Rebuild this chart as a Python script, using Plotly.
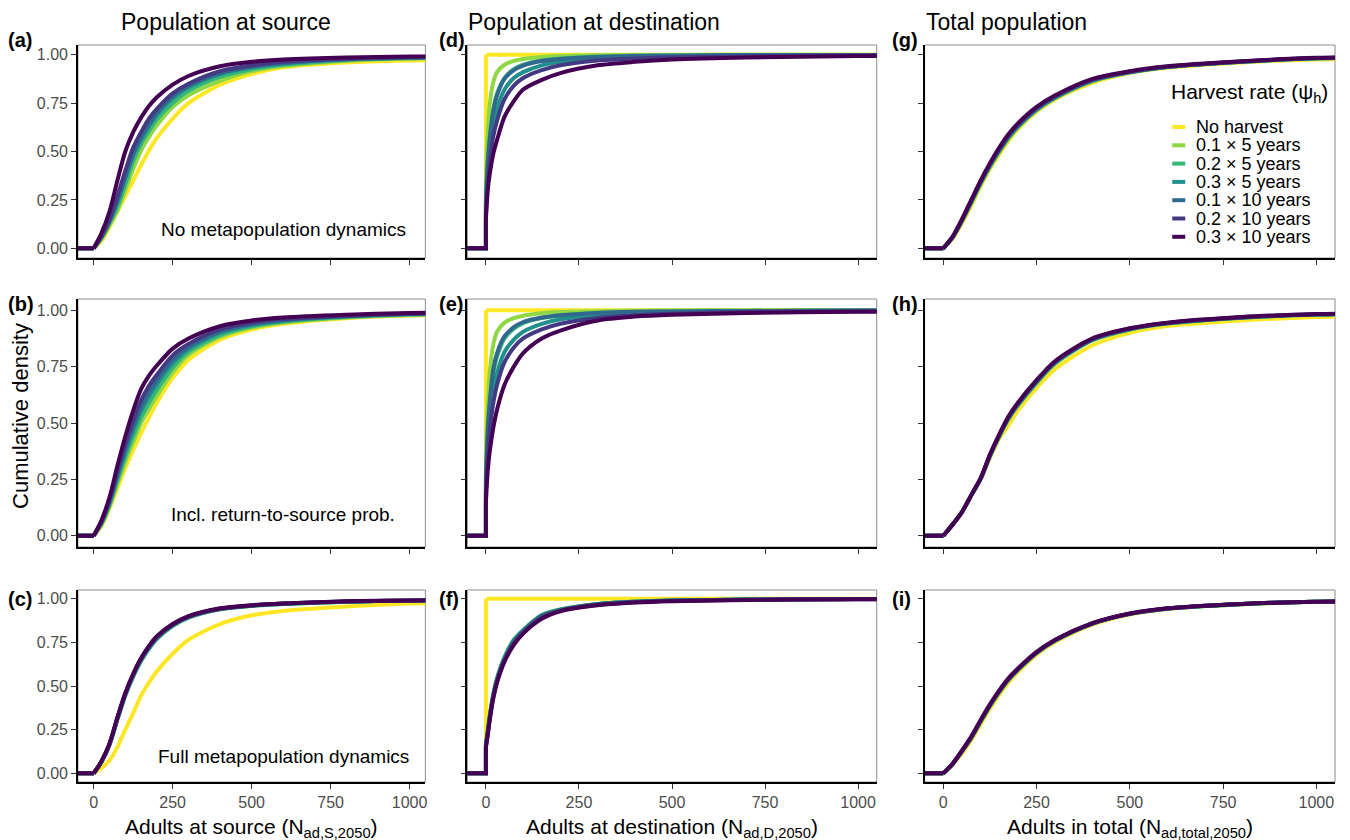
import plotly.graph_objects as go
from plotly.subplots import make_subplots

# ---------------- data ----------------
SERIES = ["No harvest", "0.1 × 5 years", "0.2 × 5 years", "0.3 × 5 years",
          "0.1 × 10 years", "0.2 × 10 years", "0.3 × 10 years"]
COLORS = ["#FDE725", "#8FD744", "#35B779", "#21908C", "#31688E", "#443A83", "#440154"]

# x grid for smooth ECDFs (source & total)
X_SMOOTH = [0, 25, 50, 75, 100, 125, 150, 175, 200, 250, 300, 400, 500, 600, 800, 1000, 1100]
# x grid for destination ECDFs (point mass at zero -> vertical jump)
X_DEST = [0, 0, 5, 10, 20, 30, 50, 75, 100, 150, 200, 300, 400, 500, 700, 1000, 1100]

# series order in every panel: SERIES order
panel_a = [
    [0, .04, .11, .19, .27, .35, .43, .505, .57, .67, .75, .845, .90, .935, .96, .97, .972],
    [0, .05, .12, .195, .30, .41, .505, .575, .635, .73, .79, .865, .915, .942, .968, .98, .982],
    [0, .055, .13, .215, .33, .45, .54, .605, .665, .75, .812, .885, .925, .948, .973, .982, .984],
    [0, .058, .14, .24, .36, .48, .56, .63, .69, .775, .832, .90, .935, .955, .976, .984, .986],
    [0, .06, .14, .245, .37, .49, .575, .64, .70, .785, .84, .905, .937, .957, .977, .985, .987],
    [0, .065, .15, .27, .40, .52, .60, .67, .72, .80, .85, .915, .945, .963, .979, .987, .988],
    [0, .08, .19, .35, .50, .60, .675, .735, .78, .845, .89, .94, .963, .975, .986, .99, .991],
]
panel_b = [
    [0, .045, .12, .21, .30, .38, .455, .525, .59, .70, .78, .87, .915, .94, .965, .977, .978],
    [0, .05, .13, .23, .328, .415, .50, .562, .62, .725, .802, .882, .923, .946, .968, .979, .98],
    [0, .054, .137, .245, .35, .441, .525, .59, .647, .745, .815, .89, .929, .949, .97, .981, .982],
    [0, .058, .145, .26, .37, .468, .553, .618, .673, .765, .828, .90, .935, .954, .973, .983, .984],
    [0, .06, .15, .27, .385, .485, .57, .637, .689, .78, .837, .906, .939, .957, .974, .984, .985],
    [0, .064, .158, .285, .405, .51, .60, .665, .714, .80, .85, .915, .945, .961, .976, .985, .986],
    [0, .07, .17, .31, .44, .555, .65, .71, .755, .83, .875, .93, .955, .968, .98, .988, .989],
]
panel_c = [
    [0, .03, .075, .15, .25, .345, .445, .52, .585, .685, .765, .855, .905, .93, .955, .972, .975],
    [0, .066, .163, .309, .446, .556, .646, .716, .772, .845, .892, .94, .959, .97, .983, .989, .99],
    [0, .066, .162, .307, .444, .553, .643, .713, .769, .843, .891, .939, .959, .97, .983, .989, .99],
    [0, .067, .164, .311, .449, .559, .649, .719, .775, .847, .894, .941, .96, .971, .983, .989, .99],
    [0, .068, .166, .314, .452, .562, .652, .722, .778, .849, .896, .942, .961, .972, .984, .989, .991],
    [0, .069, .168, .317, .456, .566, .656, .726, .781, .852, .898, .943, .962, .972, .984, .99, .991],
    [0, .07, .17, .32, .46, .57, .66, .73, .785, .855, .90, .945, .963, .973, .985, .99, .992],
]
panel_d = [
    [0, 1, 1, 1, 1, 1, 1, 1, 1, 1, 1, 1, 1, 1, 1, 1, 1],
    [0, .35, .6, .74, .86, .91, .948, .968, .978, .988, .993, .997, .998, .999, 1, 1, 1],
    [0, .25, .45, .57, .72, .80, .88, .925, .948, .97, .98, .99, .994, .996, .998, .999, .999],
    [0, .2, .38, .49, .63, .72, .82, .88, .91, .945, .963, .98, .988, .992, .996, .998, .998],
    [0, .24, .44, .56, .71, .79, .875, .92, .944, .967, .978, .988, .993, .995, .998, .999, .999],
    [0, .18, .35, .45, .58, .66, .77, .84, .88, .92, .945, .97, .98, .986, .992, .996, .997],
    [0, .15, .30, .38, .49, .56, .68, .76, .82, .87, .905, .945, .963, .975, .986, .993, .994],
]
panel_e = [
    [0, 1, 1, 1, 1, 1, 1, 1, 1, 1, 1, 1, 1, 1, 1, 1, 1],
    [0, .35, .58, .72, .85, .905, .945, .965, .976, .987, .992, .996, .998, .999, 1, 1, 1],
    [0, .25, .45, .57, .72, .795, .875, .918, .943, .965, .976, .987, .992, .995, .997, .999, .999],
    [0, .21, .39, .5, .64, .72, .815, .87, .905, .94, .96, .978, .986, .99, .995, .998, .998],
    [0, .26, .47, .59, .74, .81, .885, .925, .948, .968, .978, .988, .993, .995, .997, .999, .999],
    [0, .19, .36, .46, .59, .67, .77, .835, .875, .915, .94, .966, .978, .985, .992, .996, .997],
    [0, .15, .29, .37, .48, .56, .67, .75, .81, .875, .91, .955, .972, .98, .988, .993, .994],
]
panel_f = [
    [0, 1, 1, 1, 1, 1, 1, 1, 1, 1, 1, 1, 1, 1, 1, 1, 1],
    [0, .165, .245, .325, .455, .545, .665, .765, .82, .906, .938, .97, .983, .99, .995, .998, .998],
    [0, .165, .245, .325, .455, .545, .665, .765, .82, .906, .938, .97, .983, .99, .995, .998, .998],
    [0, .16, .24, .32, .45, .54, .66, .76, .817, .904, .936, .969, .982, .99, .995, .998, .998],
    [0, .16, .235, .315, .445, .535, .655, .755, .814, .902, .935, .968, .982, .989, .995, .998, .998],
    [0, .155, .23, .31, .44, .53, .65, .745, .807, .893, .932, .965, .98, .988, .994, .997, .998],
    [0, .15, .22, .30, .43, .52, .64, .735, .80, .885, .928, .962, .978, .986, .993, .997, .998],
]
panel_g = [
    [0, .05, .13, .22, .32, .41, .485, .555, .615, .705, .77, .855, .905, .932, .96, .975, .977],
    [0, .055, .139, .233, .331, .42, .497, .567, .624, .712, .776, .864, .909, .936, .963, .981, .983],
    [0, .056, .141, .237, .335, .424, .502, .571, .627, .715, .777, .865, .909, .936, .963, .981, .983],
    [0, .057, .143, .24, .338, .427, .505, .575, .63, .717, .779, .866, .909, .936, .963, .981, .983],
    [0, .058, .145, .243, .341, .43, .508, .578, .633, .72, .781, .868, .91, .937, .964, .982, .984],
    [0, .059, .147, .246, .345, .434, .513, .583, .638, .724, .785, .871, .912, .938, .965, .983, .985],
    [0, .06, .15, .25, .35, .44, .52, .59, .645, .73, .79, .875, .915, .94, .966, .984, .986],
]
panel_h = [
    [0, .05, .105, .178, .25, .345, .43, .49, .555, .655, .74, .845, .90, .93, .955, .97, .974],
    [0, .05, .105, .179, .251, .352, .44, .517, .577, .677, .764, .867, .915, .941, .967, .981, .984],
    [0, .05, .105, .179, .252, .353, .441, .519, .579, .679, .765, .868, .915, .941, .967, .981, .984],
    [0, .05, .105, .179, .252, .354, .443, .521, .581, .681, .767, .869, .916, .942, .968, .981, .984],
    [0, .05, .105, .18, .253, .356, .445, .524, .584, .684, .77, .871, .918, .943, .968, .982, .985],
    [0, .05, .105, .18, .254, .358, .447, .527, .587, .687, .772, .873, .919, .944, .969, .982, .985],
    [0, .05, .105, .18, .255, .36, .45, .53, .59, .69, .775, .875, .92, .945, .97, .983, .986],
]
panel_i = [
    [0, .05, .115, .19, .28, .37, .45, .52, .58, .68, .752, .852, .91, .941, .968, .982, .984],
    [0, .053, .124, .202, .295, .385, .465, .535, .591, .688, .759, .857, .913, .943, .969, .983, .985],
    [0, .053, .125, .203, .296, .386, .466, .536, .592, .689, .76, .857, .913, .943, .969, .983, .985],
    [0, .053, .126, .204, .297, .387, .467, .537, .593, .69, .761, .858, .913, .944, .97, .983, .985],
    [0, .054, .127, .205, .299, .389, .469, .539, .595, .691, .762, .858, .914, .944, .97, .983, .985],
    [0, .054, .128, .207, .301, .391, .471, .541, .597, .692, .763, .859, .914, .944, .97, .983, .985],
    [0, .055, .13, .21, .305, .395, .475, .545, .6, .695, .765, .86, .915, .945, .97, .983, .985],
]

COL_TITLES = ["Population at source", "Population at destination", "Total population"]
X_TITLES = ["Adults at source (N<sub>ad,S,2050</sub>)",
            "Adults at destination (N<sub>ad,D,2050</sub>)",
            "Adults in total (N<sub>ad,total,2050</sub>)"]
Y_TITLE = "Cumulative density"
ROW_NOTES = ["No metapopulation dynamics", "Incl. return-to-source prob.", "Full metapopulation dynamics"]
PANEL_LABELS = [["(a)", "(d)", "(g)"], ["(b)", "(e)", "(h)"], ["(c)", "(f)", "(i)"]]
LEGEND_TITLE = "Harvest rate (ψ<sub>h</sub>)"
X_TICKS = [0, 250, 500, 750, 1000]
Y_TICKS = [0, 0.25, 0.5, 0.75, 1.0]
Y_TICKTEXT = ["0.00", "0.25", "0.50", "0.75", "1.00"]

GRID = [[(X_SMOOTH, panel_a, 1), (X_DEST, panel_d, 2), (X_SMOOTH, panel_g, 1)],
        [(X_SMOOTH, panel_b, 1), (X_DEST, panel_e, 2), (X_SMOOTH, panel_h, 1)],
        [(X_SMOOTH, panel_c, 1), (X_DEST, panel_f, 2), (X_SMOOTH, panel_i, 1)]]

# ---------------- layout geometry (window pixels) ----------------
OFF = 8                      # page body margin
W, H = 1350 - OFF, 840 - OFF  # figure size
COL_PX = [(78, 426), (468, 878), (926, 1337)]
ROW_PX = [(45, 258), (299, 547), (590, 782)]
FONT = "Liberation Sans, Arial, sans-serif"


def px(p):
    return (p - OFF) / W


def py(p):
    return 1 - (p - OFF) / H


fig = make_subplots(rows=3, cols=3)

for r in range(3):
    for c in range(3):
        xg, data, nlead = GRID[r][c]
        for s, ys in enumerate(data):
            xs = [-100] + list(xg)
            yv = [0] + list(ys)
            # flat lead-in and jump at zero: straight segments
            fig.add_trace(go.Scatter(
                x=xs[:nlead + 1], y=yv[:nlead + 1], mode="lines",
                name=SERIES[s], showlegend=False,
                line=dict(color=COLORS[s], width=4),
                hoverinfo="skip"), row=r + 1, col=c + 1)
            # smooth ECDF body
            fig.add_trace(go.Scatter(
                x=xs[nlead:], y=yv[nlead:], mode="lines",
                name=SERIES[s], showlegend=False,
                line=dict(color=COLORS[s], width=4, shape="spline", smoothing=0.8),
                hoverinfo="skip"), row=r + 1, col=c + 1)

for r in range(3):
    for c in range(3):
        idx = r * 3 + c + 1
        sfx = "" if idx == 1 else str(idx)
        x0, x1 = COL_PX[c]
        y0, y1 = ROW_PX[r]
        fig.layout["xaxis" + sfx].update(
            domain=[px(x0), px(x1)], range=[-50, 1050],
            tickvals=X_TICKS, ticks="outside", ticklen=5, tickwidth=1.3,
            tickcolor="#333333", showticklabels=(r == 2),
            tickfont=dict(size=16, color="#4D4D4D", family=FONT),
            showline=True, linecolor="black", linewidth=1.5,
            showgrid=False, zeroline=False)
        fig.layout["yaxis" + sfx].update(
            domain=[py(y1), py(y0)], range=[-0.05, 1.05],
            tickvals=Y_TICKS, ticktext=Y_TICKTEXT, ticks="outside", ticklen=5,
            tickwidth=1.3, tickcolor="#333333", showticklabels=(c == 0),
            tickfont=dict(size=16, color="#4D4D4D", family=FONT),
            showline=True, linecolor="black", linewidth=1.5,
            showgrid=False, zeroline=False)
        xr = "x" + sfx
        yr = "y" + sfx
        fig.add_shape(type="rect", xref=xr + " domain", yref=yr + " domain",
                      x0=0, x1=1, y0=0, y1=1, layer="below",
                      line=dict(color="#8C8C8C", width=1))
        # panel label
        lab_y = [40, 304, 599][r]
        lab_x = [6, 438, 891][c]
        fig.add_annotation(text="<b>" + PANEL_LABELS[r][c] + "</b>", xref="paper", yref="paper",
                           x=px(lab_x), y=py(lab_y), xanchor="left", yanchor="middle",
                           showarrow=False, font=dict(size=20, color="black", family=FONT))
        if c == 0:
            fig.add_annotation(text=ROW_NOTES[r], xref=xr, yref=yr, x=600, y=0.095,
                               xanchor="center", yanchor="middle", showarrow=False,
                               font=dict(size=19, color="black", family=FONT))

# column titles and x-axis titles
for c in range(3):
    tx = [120, 468, 926][c]
    fig.add_annotation(text=COL_TITLES[c], xref="paper", yref="paper", x=px(tx), y=1,
                       xanchor="left", yanchor="top", borderpad=0, showarrow=False,
                       font=dict(size=23, color="black", family=FONT))
    cx = (COL_PX[c][0] + COL_PX[c][1]) / 2
    fig.add_annotation(text=X_TITLES[c], xref="paper", yref="paper", x=px(cx), y=py(828),
                       xanchor="center", yanchor="middle", showarrow=False,
                       font=dict(size=21, color="black", family=FONT))

fig.add_annotation(text=Y_TITLE, xref="paper", yref="paper", x=px(20), y=py(416),
                   xanchor="center", yanchor="middle", textangle=-90, showarrow=False,
                   font=dict(size=22, color="black", family=FONT))

# legend (drawn inside panel g)
fig.add_annotation(text=LEGEND_TITLE, xref="paper", yref="paper", x=px(1171), y=py(93),
                   xanchor="left", yanchor="middle", showarrow=False,
                   font=dict(size=21, color="black", family=FONT))
for s in range(len(SERIES)):
    yy = 127 + s * 18.3
    fig.add_shape(type="line", xref="paper", yref="paper", x0=px(1174), x1=px(1187),
                  y0=py(yy), y1=py(yy), line=dict(color=COLORS[s], width=4))
    fig.add_annotation(text=SERIES[s], xref="paper", yref="paper", x=px(1197), y=py(yy),
                       xanchor="left", yanchor="middle", showarrow=False, borderpad=0,
                       font=dict(size=18, color="black", family=FONT))

fig.update_layout(width=W, height=H, margin=dict(l=0, r=0, t=0, b=0),
                  paper_bgcolor="white", plot_bgcolor="white", showlegend=False,
                  font=dict(family=FONT))

fig.write_html("out.html")
